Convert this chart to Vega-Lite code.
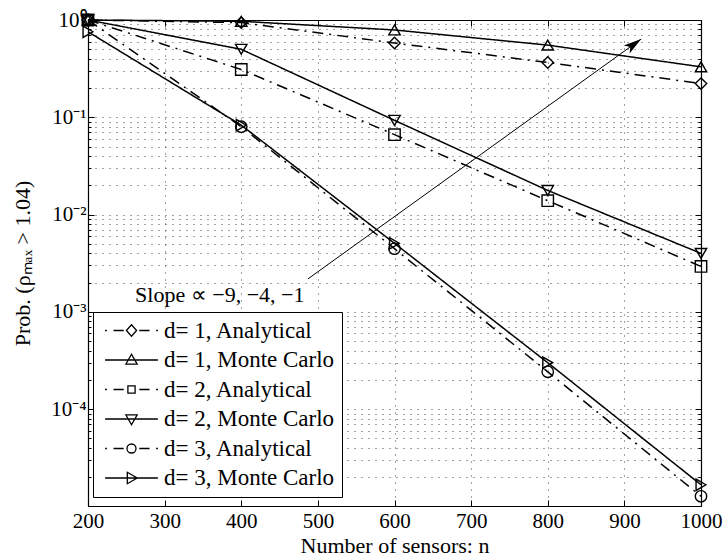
{
  "$schema": "https://vega.github.io/schema/vega-lite/v6.json",
  "width": 613,
  "height": 486,
  "autosize": {"type": "none"},
  "padding": {"left": 88, "top": 20, "right": 23, "bottom": 54},
  "background": "white",
  "config": {
    "view": {"stroke": null},
    "font": "Liberation Serif",
    "axis": {
      "domainColor": "black",
      "domainWidth": 1.2,
      "tickColor": "black",
      "tickWidth": 1,
      "gridColor": "#444444",
      "gridDash": [1, 6],
      "gridWidth": 1,
      "labelFont": "Liberation Serif",
      "labelFontSize": 21,
      "labelColor": "black",
      "titleFont": "Liberation Serif",
      "titleFontSize": 22,
      "titleFontWeight": "normal",
      "titleColor": "black",
      "labelFlush": false,
      "labelOverlap": false
    }
  },
  "datasets": {
    "curves": [
      {"n": 200, "p": 1.0, "series": "d= 1, Analytical", "method": "Analytical"},
      {"n": 400, "p": 0.94, "series": "d= 1, Analytical", "method": "Analytical"},
      {"n": 600, "p": 0.58, "series": "d= 1, Analytical", "method": "Analytical"},
      {"n": 800, "p": 0.366, "series": "d= 1, Analytical", "method": "Analytical"},
      {"n": 1000, "p": 0.222, "series": "d= 1, Analytical", "method": "Analytical"},
      {"n": 200, "p": 1.0, "series": "d= 1, Monte Carlo", "method": "Monte Carlo"},
      {"n": 400, "p": 0.97, "series": "d= 1, Monte Carlo", "method": "Monte Carlo"},
      {"n": 600, "p": 0.79, "series": "d= 1, Monte Carlo", "method": "Monte Carlo"},
      {"n": 800, "p": 0.552, "series": "d= 1, Monte Carlo", "method": "Monte Carlo"},
      {"n": 1000, "p": 0.33, "series": "d= 1, Monte Carlo", "method": "Monte Carlo"},
      {"n": 200, "p": 1.0, "series": "d= 2, Analytical", "method": "Analytical"},
      {"n": 400, "p": 0.31, "series": "d= 2, Analytical", "method": "Analytical"},
      {"n": 600, "p": 0.0663, "series": "d= 2, Analytical", "method": "Analytical"},
      {"n": 800, "p": 0.0139, "series": "d= 2, Analytical", "method": "Analytical"},
      {"n": 1000, "p": 0.00293, "series": "d= 2, Analytical", "method": "Analytical"},
      {"n": 200, "p": 1.0, "series": "d= 2, Monte Carlo", "method": "Monte Carlo"},
      {"n": 400, "p": 0.5, "series": "d= 2, Monte Carlo", "method": "Monte Carlo"},
      {"n": 600, "p": 0.093, "series": "d= 2, Monte Carlo", "method": "Monte Carlo"},
      {"n": 800, "p": 0.0177, "series": "d= 2, Monte Carlo", "method": "Monte Carlo"},
      {"n": 1000, "p": 0.00399, "series": "d= 2, Monte Carlo", "method": "Monte Carlo"},
      {"n": 200, "p": 1.0, "series": "d= 3, Analytical", "method": "Analytical"},
      {"n": 400, "p": 0.08, "series": "d= 3, Analytical", "method": "Analytical"},
      {"n": 600, "p": 0.00446, "series": "d= 3, Analytical", "method": "Analytical"},
      {"n": 800, "p": 0.000242, "series": "d= 3, Analytical", "method": "Analytical"},
      {"n": 1000, "p": 0.0000127, "series": "d= 3, Analytical", "method": "Analytical"},
      {"n": 200, "p": 0.757, "series": "d= 3, Monte Carlo", "method": "Monte Carlo"},
      {"n": 400, "p": 0.083, "series": "d= 3, Monte Carlo", "method": "Monte Carlo"},
      {"n": 600, "p": 0.00506, "series": "d= 3, Monte Carlo", "method": "Monte Carlo"},
      {"n": 800, "p": 0.0003, "series": "d= 3, Monte Carlo", "method": "Monte Carlo"},
      {"n": 1000, "p": 0.0000167, "series": "d= 3, Monte Carlo", "method": "Monte Carlo"}
    ],
    "arrow": [
      {"n": 487, "p": 0.00218},
      {"n": 922, "p": 0.638}
    ],
    "arrowhead": [
      {"n": 922, "p": 0.638}
    ],
    "note": [
      {"n": 372, "p": 0.00149, "label": "Slope ∝ −9, −4, −1"}
    ]
  },
  "layer": [
    {
      "data": {"name": "curves"},
      "mark": {"type": "line", "strokeWidth": 1.5, "color": "black"},
      "encoding": {
        "x": {
          "field": "n", "type": "quantitative",
          "scale": {"domain": [200, 1000], "nice": false, "zero": false},
          "axis": {
            "orient": "bottom",
            "title": "Number of sensors: n",
            "values": [200, 300, 400, 500, 600, 700, 800, 900, 1000],
            "format": "d",
            "tickSize": -6,
            "labelPadding": 10,
            "titlePadding": 4,
            "grid": true
          }
        },
        "y": {
          "field": "p", "type": "quantitative",
          "scale": {"type": "log", "domain": [0.0000101, 1], "nice": false},
          "axis": {
            "orient": "left",
            "title": "Prob. (ρₘₐₓ > 1.04)",
            "values": [0.00002, 0.00003, 0.00004, 0.00005, 0.00006, 0.00007, 0.00008, 0.00009, 0.0001, 0.0002, 0.0003, 0.0004, 0.0005, 0.0006, 0.0007, 0.0008, 0.0009, 0.001, 0.002, 0.003, 0.004, 0.005, 0.006, 0.007, 0.008, 0.009, 0.01, 0.02, 0.03, 0.04, 0.05, 0.06, 0.07, 0.08, 0.09, 0.1, 0.2, 0.3, 0.4, 0.5, 0.6, 0.7, 0.8, 0.9, 1],
            "labelExpr": "datum.value == 1 ? '10⁰' : datum.value == 0.1 ? '10⁻¹' : datum.value == 0.01 ? '10⁻²' : datum.value == 0.001 ? '10⁻³' : datum.value == 0.0001 ? '10⁻⁴' : ''",
            "tickSize": {"condition": {"test": "datum.value == 1 || datum.value == 0.1 || datum.value == 0.01 || datum.value == 0.001 || datum.value == 0.0001", "value": -6}, "value": -3},
            "labelPadding": 8,
            "titlePadding": 16,
            "grid": true
          }
        },
        "detail": {"field": "series"},
        "strokeDash": {
          "field": "method",
          "scale": {"domain": ["Analytical", "Monte Carlo"], "range": [[11, 6, 2, 6], [1, 0]]},
          "legend": null
        }
      }
    },
    {
      "data": {"name": "curves"},
      "mark": {"type": "point", "filled": false, "strokeWidth": 1.4, "color": "black", "opacity": 1, "size": 130},
      "encoding": {
        "x": {
          "field": "n", "type": "quantitative",
          "scale": {"domain": [200, 1000], "nice": false, "zero": false},
          "axis": {
            "orient": "top",
            "title": null,
            "labels": false,
            "values": [200, 300, 400, 500, 600, 700, 800, 900, 1000],
            "tickSize": -6,
            "grid": false
          }
        },
        "y": {
          "field": "p", "type": "quantitative",
          "scale": {"type": "log", "domain": [0.0000101, 1], "nice": false},
          "axis": {
            "orient": "right",
            "title": null,
            "labels": false,
            "values": [0.00002, 0.00003, 0.00004, 0.00005, 0.00006, 0.00007, 0.00008, 0.00009, 0.0001, 0.0002, 0.0003, 0.0004, 0.0005, 0.0006, 0.0007, 0.0008, 0.0009, 0.001, 0.002, 0.003, 0.004, 0.005, 0.006, 0.007, 0.008, 0.009, 0.01, 0.02, 0.03, 0.04, 0.05, 0.06, 0.07, 0.08, 0.09, 0.1, 0.2, 0.3, 0.4, 0.5, 0.6, 0.7, 0.8, 0.9, 1],
            "tickSize": {"condition": {"test": "datum.value == 1 || datum.value == 0.1 || datum.value == 0.01 || datum.value == 0.001 || datum.value == 0.0001", "value": -6}, "value": -3},
            "grid": false
          }
        },
        "shape": {
          "field": "series",
          "scale": {
            "domain": ["d= 1, Analytical", "d= 1, Monte Carlo", "d= 2, Analytical", "d= 2, Monte Carlo", "d= 3, Analytical", "d= 3, Monte Carlo"],
            "range": ["diamond", "triangle-up", "square", "triangle-down", "circle", "triangle-right"]
          },
          "legend": null
        }
      }
    },
    {
      "data": {"name": "curves"},
      "transform": [{"filter": "datum.n < 0"}],
      "mark": {"type": "point", "filled": false, "strokeWidth": 1.3, "color": "black", "opacity": 1},
      "encoding": {
        "shape": {
          "field": "series",
          "scale": {
            "domain": ["d= 1, Analytical", "d= 1, Monte Carlo", "d= 2, Analytical", "d= 2, Monte Carlo", "d= 3, Analytical", "d= 3, Monte Carlo"],
            "range": [
              "M-4.4,0H-4.1M-3,0H-1.3M1.3,0H3M4.1,0H4.4M-0.85,0L0,-0.95L0.85,0L0,0.95Z",
              "M-4.4,0H4.4M-0.95,0.7L0,-0.95L0.95,0.7Z",
              "M-4.4,0H-4.1M-3,0H-1.3M1.3,0H3M4.1,0H4.4M-0.6,-0.6H0.6V0.6H-0.6Z",
              "M-4.4,0H4.4M-0.95,-0.7L0,0.95L0.95,-0.7Z",
              "M-4.4,0H-4.1M-3,0H-1.3M1.3,0H3M4.1,0H4.4M-0.75,0A0.75,0.75,0,1,0,0.75,0A0.75,0.75,0,1,0,-0.75,0Z",
              "M-4.4,0H4.4M-0.7,-0.95L0.95,0L-0.7,0.95Z"
            ]
          },
          "legend": {
            "title": null,
            "orient": "none",
            "legendX": 5,
            "legendY": 292,
            "direction": "vertical",
            "fillColor": "white",
            "strokeColor": "black",
            "padding": 7,
            "cornerRadius": 0,
            "labelFont": "Liberation Serif",
            "labelFontSize": 23,
            "labelColor": "black",
            "labelLimit": 400,
            "symbolSize": 144,
            "symbolStrokeWidth": 1.3,
            "symbolStrokeColor": "black",
            "symbolFillColor": "transparent",
            "symbolOffset": 20,
            "labelOffset": 21,
            "rowPadding": 5.5
          }
        }
      }
    },
    {
      "data": {"name": "arrow"},
      "mark": {"type": "line", "strokeWidth": 1, "color": "black"},
      "encoding": {
        "x": {"field": "n", "type": "quantitative", "axis": null},
        "y": {"field": "p", "type": "quantitative", "axis": null}
      }
    },
    {
      "data": {"name": "arrowhead"},
      "mark": {"type": "point", "shape": "M0,0L0.55,2L0,1.5L-0.55,2Z", "filled": true, "color": "black", "opacity": 1, "size": 324, "angle": 54},
      "encoding": {
        "x": {"field": "n", "type": "quantitative", "axis": null},
        "y": {"field": "p", "type": "quantitative", "axis": null}
      }
    },
    {
      "data": {"name": "note"},
      "mark": {"type": "text", "font": "Liberation Serif", "fontSize": 22, "align": "center", "baseline": "middle", "color": "black"},
      "encoding": {
        "x": {"field": "n", "type": "quantitative", "axis": null},
        "y": {"field": "p", "type": "quantitative", "axis": null},
        "text": {"field": "label"}
      }
    }
  ],
  "resolve": {"axis": {"x": "independent", "y": "independent"}, "scale": {"shape": "independent"}}
}
